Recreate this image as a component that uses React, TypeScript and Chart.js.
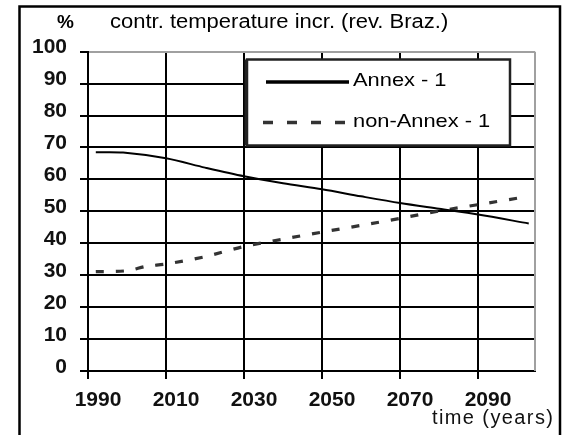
import { useEffect, useRef } from 'react';
import { Chart, registerables } from 'chart.js';

Chart.register(...registerables);

const TITLE_UNIT = '%';
const TITLE_TEXT = 'contr. temperature incr. (rev. Braz.)';
const X_TITLE = 'time (years)';

const SERIES_LABELS = ['Annex - 1', 'non-Annex - 1'];

const ANNEX_YEARS = [1992, 1999, 2010, 2020, 2030, 2040, 2050, 2060, 2070, 2080, 2090, 2103];
const ANNEX_VALUES = [68.5, 68.4, 66.6, 63.7, 61, 58.8, 56.9, 54.7, 52.6, 50.8, 49, 46.2];

const NON_ANNEX_YEARS = [1992, 2000, 2005, 2010, 2020, 2030, 2040, 2050, 2060, 2070, 2080, 2090, 2102];
const NON_ANNEX_VALUES = [31.1, 31.4, 32.8, 33.5, 35.8, 39, 41.3, 43.5, 45.6, 47.8, 50.1, 52.1, 54.5];

const X_TICKS = [1990, 2010, 2030, 2050, 2070, 2090];
const Y_TICKS = [0, 10, 20, 30, 40, 50, 60, 70, 80, 90, 100];

const FONT = '"Liberation Sans", Arial, Helvetica, sans-serif';

const decorPlugin = {
  id: 'decor',
  afterDraw(chart: any) {
    const ctx = chart.ctx as CanvasRenderingContext2D;
    const area = chart.chartArea;
    ctx.save();

    // outer frame
    ctx.strokeStyle = '#000';
    ctx.lineWidth = 2.5;
    ctx.beginPath();
    ctx.moveTo(19.5, 440);
    ctx.lineTo(19.5, 6.5);
    ctx.lineTo(560, 6.5);
    ctx.lineTo(560, 440);
    ctx.stroke();

    // plot border (right) in gray
    ctx.strokeStyle = '#a0a0a0';
    ctx.lineWidth = 2;
    ctx.beginPath();
    ctx.moveTo(area.right, area.top);
    ctx.lineTo(area.right, area.bottom);
    ctx.stroke();

    // title
    ctx.fillStyle = '#000';
    ctx.textBaseline = 'alphabetic';
    ctx.textAlign = 'left';
    ctx.font = `bold 19px ${FONT}`;
    ctx.fillText(TITLE_UNIT, 57, 28);
    ctx.save();
    ctx.translate(110, 28);
    ctx.scale(1.1, 1);
    ctx.font = `20px ${FONT}`;
    ctx.fillText(TITLE_TEXT, 0, 0);
    ctx.restore();

    // x axis title
    ctx.save();
    ctx.font = `20px ${FONT}`;
    (ctx as any).letterSpacing = '1.4px';
    ctx.fillStyle = '#111';
    ctx.fillText(X_TITLE, 432, 424);
    ctx.restore();

    // legend box
    const lx = 247, ly = 59.5, lw = 263, lh = 86;
    ctx.fillStyle = '#fff';
    ctx.fillRect(lx, ly, lw, lh);
    ctx.strokeStyle = '#222';
    ctx.lineWidth = 2.5;
    ctx.strokeRect(lx, ly, lw, lh);
    ctx.lineWidth = 2;
    ctx.beginPath();
    ctx.moveTo(lx - 1.5, ly);
    ctx.lineTo(lx - 1.5, ly + lh);
    ctx.stroke();

    const ds = chart.data.datasets;
    // entry 1
    ctx.strokeStyle = ds[0].borderColor;
    ctx.lineWidth = 3.3;
    ctx.setLineDash([]);
    ctx.beginPath();
    ctx.moveTo(266, 82);
    ctx.lineTo(349, 82);
    ctx.stroke();
    // entry 2
    ctx.strokeStyle = ds[1].borderColor;
    ctx.lineWidth = 3.3;
    ctx.setLineDash([10, 14]);
    ctx.beginPath();
    ctx.moveTo(263, 122.5);
    ctx.lineTo(346, 122.5);
    ctx.stroke();
    ctx.setLineDash([]);

    ctx.fillStyle = '#000';
    ctx.font = `19px ${FONT}`;
    ctx.save();
    ctx.translate(353, 86);
    ctx.scale(1.15, 1);
    ctx.fillText(ds[0].label, 0, 0);
    ctx.restore();
    ctx.save();
    ctx.translate(353, 127);
    ctx.scale(1.15, 1);
    ctx.fillText(ds[1].label, 0, 0);
    ctx.restore();

    ctx.restore();
  },
};

export default function App() {
  const ref = useRef<HTMLCanvasElement | null>(null);

  useEffect(() => {
    if (!ref.current) return;
    const chart = new Chart(ref.current, {
      type: 'line',
      data: {
        datasets: [
          {
            label: SERIES_LABELS[0],
            data: ANNEX_YEARS.map((x, i) => ({ x, y: ANNEX_VALUES[i] })),
            borderColor: '#000',
            borderWidth: 2,
            pointRadius: 0,
            tension: 0.3,
            fill: false,
          },
          {
            label: SERIES_LABELS[1],
            data: NON_ANNEX_YEARS.map((x, i) => ({ x, y: NON_ANNEX_VALUES[i] })),
            borderColor: '#333',
            borderWidth: 3.2,
            borderDash: [8, 12],
            pointRadius: 0,
            tension: 0.3,
            fill: false,
          },
        ],
      },
      options: {
        responsive: false,
        animation: false,
        devicePixelRatio: 1,
        layout: { padding: { left: 0, right: 34, top: 51.7, bottom: 0 } },
        plugins: {
          legend: { display: false },
          tooltip: { enabled: false },
          title: { display: false },
        },
        scales: {
          x: {
            type: 'linear',
            min: 1990,
            max: 2104.6,
            afterBuildTicks: (scale: any) => {
              scale.ticks = X_TICKS.map((v) => ({ value: v }));
            },
            afterFit: (scale: any) => {
              scale.height = 435 - 371;
            },
            grid: {
              color: '#000',
              lineWidth: 2,
              tickLength: 8,
              tickColor: '#000',
            },
            border: { color: '#000', width: 2 },
            ticks: {
              color: '#111',
              padding: 9,
              labelOffset: 10,
              maxRotation: 0,
              autoSkip: false,
              font: { family: FONT, size: 21, weight: 'bold' },
              callback: (v: any) => String(v),
            },
          },
          y: {
            type: 'linear',
            min: 0,
            max: 100,
            afterBuildTicks: (scale: any) => {
              scale.ticks = Y_TICKS.map((v) => ({ value: v }));
            },
            afterFit: (scale: any) => {
              scale.width = 88;
            },
            grid: {
              color: (c: any) => (c.tick && c.tick.value === 100 ? '#a0a0a0' : '#000'),
              lineWidth: 2,
              tickLength: 8,
              tickColor: '#000',
            },
            border: { color: '#000', width: 2 },
            ticks: {
              color: '#111',
              padding: 13,
              labelOffset: -4,
              autoSkip: false,
              font: { family: FONT, size: 21, weight: 'bold' },
            },
          },
        },
      },
      plugins: [decorPlugin],
    } as any);
    return () => chart.destroy();
  }, []);

  return (
    <div style={{ position: 'absolute', left: 0, top: 0, width: 569, height: 435, background: '#fff' }}>
      <canvas ref={ref} width={569} height={435} style={{ display: 'block', width: 569, height: 435 }} />
    </div>
  );
}
